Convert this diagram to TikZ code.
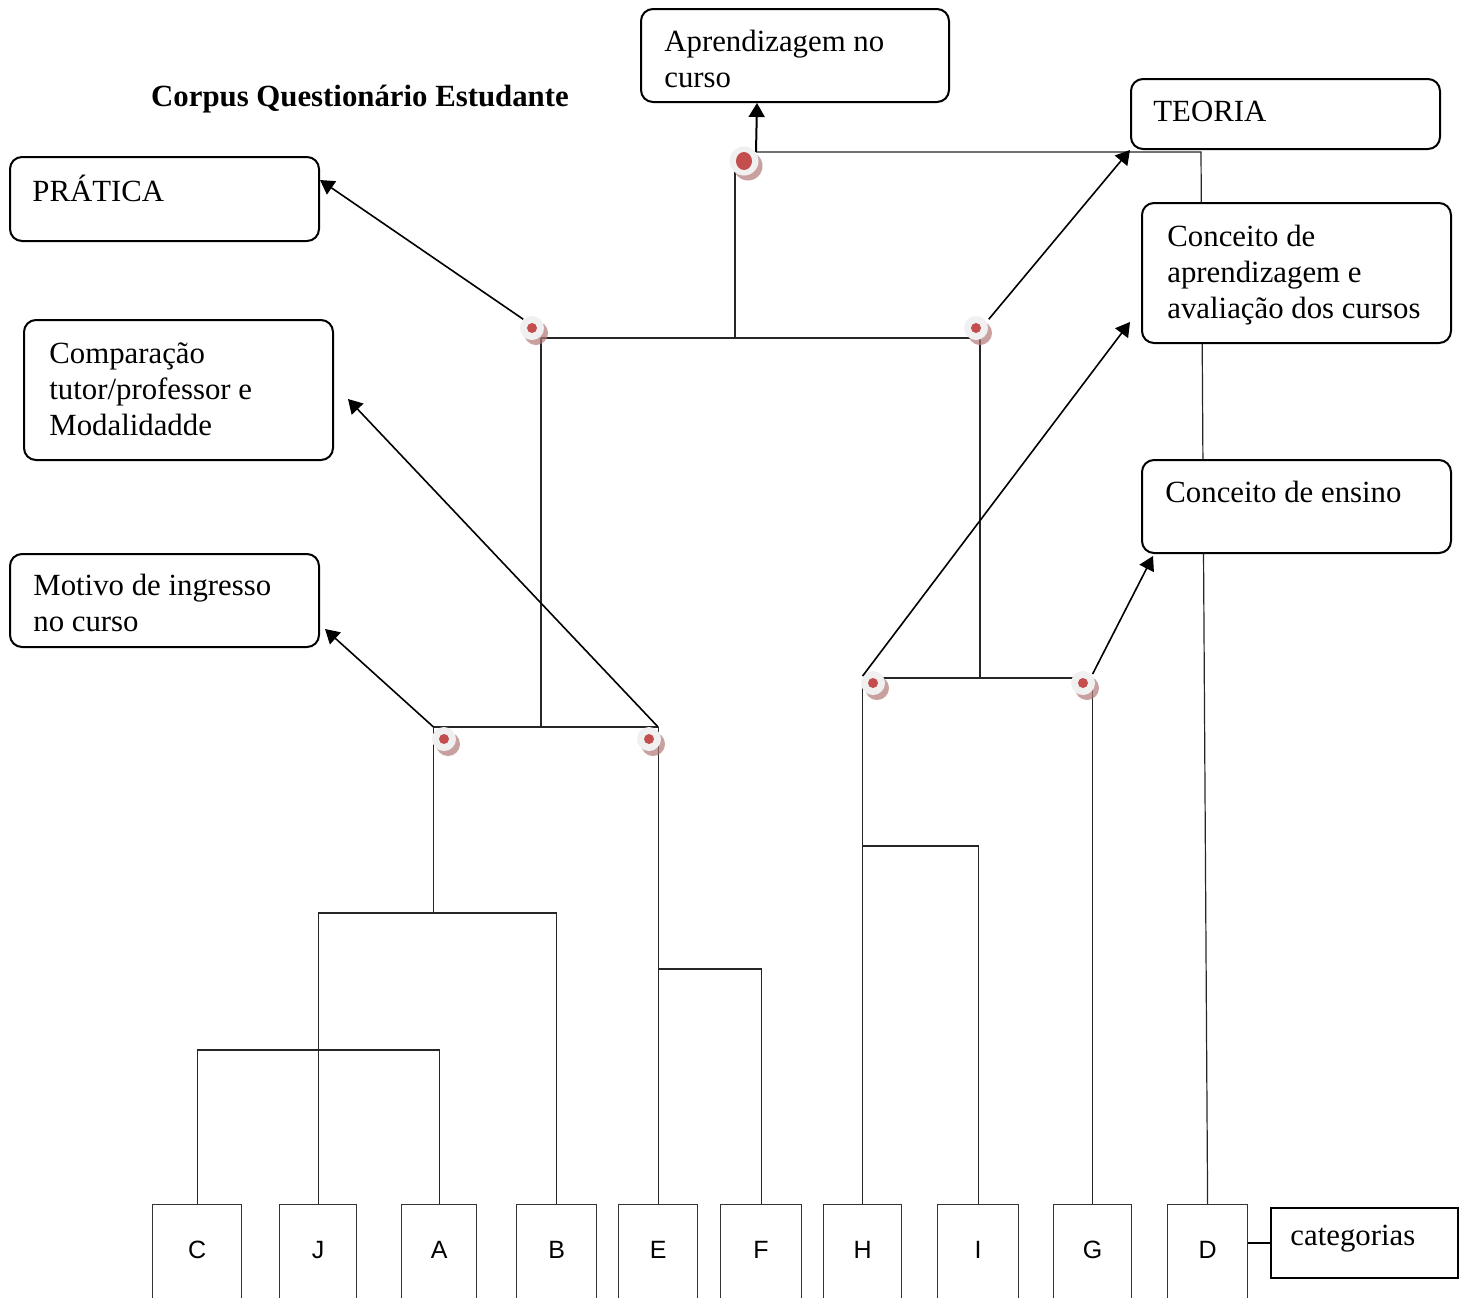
\documentclass[tikz,border=0pt]{standalone}
\usepackage{fontspec}
\setmainfont{Liberation Serif}
\newfontfamily\lettfont{Liberation Sans}
\usetikzlibrary{arrows.meta,shadows}
\definecolor{dotred}{RGB}{196,77,77}
\definecolor{dotwhite}{RGB}{240,240,240}
\definecolor{shadowc}{RGB}{176,120,120}
\begin{document}
\begin{tikzpicture}[x=0.5pt,y=-0.5pt,
  dendro/.style={line width=0.6pt, draw=black!85},
  lbox/.style={draw=black!80, line width=0.6pt, anchor=north west, inner sep=0, minimum height=50pt, text height=9.5pt, text depth=6pt, fill=white, font=\lettfont\fontsize{12.5}{14}\selectfont},
  rbox/.style={draw, line width=1pt, rounded corners=6pt, fill=white, anchor=north west, inner sep=0},
  txt/.style={anchor=north west, inner sep=0, align=left, font=\fontsize{15.4}{18}\selectfont},
  dotnode/.style={circle, inner sep=0, minimum size=12pt, fill=dotwhite,
    drop shadow={shadow xshift=2pt, shadow yshift=-2.5pt, shadow scale=1, fill=shadowc, opacity=0.7},
    path picture={\fill[dotred] (path picture bounding box.center) circle (2.5pt);}},
  bigdot/.style={circle, inner sep=0, minimum size=14.5pt, fill=dotwhite,
    drop shadow={shadow xshift=2pt, shadow yshift=-2.5pt, shadow scale=1, fill=shadowc, opacity=0.7},
    path picture={\fill[dotred] (path picture bounding box.center) ellipse (4pt and 4.5pt);}},
  arr/.style={-{Triangle[length=7pt,width=8pt]}, line width=0.8pt}
]
\useasboundingbox (0,0) rectangle (1468,1297);

% leaf boxes
\node[lbox, minimum width=44.5pt] (C) at (152,1204) {C};
\node[lbox, minimum width=38.5pt] (J) at (279,1204) {J};
\node[lbox, minimum width=37.5pt] (A) at (401,1204) {A};
\node[lbox, minimum width=40pt] (B) at (516,1204) {B};
\node[lbox, minimum width=39.5pt] (E) at (618,1204) {E};
\node[lbox, minimum width=40.5pt] (F) at (720,1204) {F};
\node[lbox, minimum width=39pt] (H) at (823,1204) {H};
\node[lbox, minimum width=40.5pt] (I) at (937,1204) {I};
\node[lbox, minimum width=39pt] (G) at (1053,1204) {G};
\node[lbox, minimum width=40pt] (D) at (1167,1204) {D};

% categorias
\node[draw, line width=1pt, anchor=north west, inner sep=0, minimum width=93.5pt, minimum height=35pt] (catbox) at (1270,1207) {};
\node[txt] (cattxt) at (1290,1220) {\strut categorias};
\draw[line width=0.8pt] (D.east |- catbox.west) -- (catbox.west);

% levels
\coordinate (h1) at (0,1050);
\coordinate (h2) at (0,913);
\coordinate (h3) at (0,969);
\coordinate (h4) at (0,727);
\coordinate (h5) at (0,678);
\coordinate (h6) at (0,846);
\coordinate (jM) at (433.5,727);
\coordinate (jE) at (E.north |- h4);
\coordinate (jL) at (541,338);
\coordinate (jR) at (980,338);
\coordinate (jH) at (H.north |- h5);
\coordinate (jG) at (G.north |- h5);
\coordinate (jTop) at (735,165);
\coordinate (j0) at (756,152);
\coordinate (jD) at (1201,152);

% dendrogram
\draw[dendro] (C.north) -- (C.north |- h1) -| (A.north);
\draw[dendro] (J.north) -- (J.north |- h2) -| (B.north);
\draw[dendro] (jM |- h2) -- (jM);
\draw[dendro] (E.north) -- (jE);
\draw[dendro] (F.north) |- (E.north |- h3);
\draw[dendro] (jM) -- (jE);
\draw[dendro] (jL |- h4) -- (jL);
\draw[dendro] (H.north) -- (jH);
\draw[dendro] (I.north) |- (H.north |- h6);
\draw[dendro] (G.north) -- (jG);
\draw[dendro] (jH) -- (jG);
\draw[dendro] (jR |- h5) -- (jR);
\draw[dendro] (jL) -- (jR);
\draw[dendro] (jTop |- jL) -- (jTop);
\draw[dendro] (j0) -- (jD) -- (D.north);

% title
\node[anchor=base, inner sep=0, font=\bfseries\fontsize{15.4}{18}\selectfont] (title) at (360,106) {Corpus Questionário Estudante};

% boxes
\node[rbox, minimum width=154pt, minimum height=46.5pt] (apr) at (640,8) {};
\node[txt] (aprt) at (664,25.8) {\strut Aprendizagem no\\curso};
\node[rbox, minimum width=154.5pt, minimum height=35pt] (teo) at (1130,78) {};
\node[txt] (teot) at (1153,95.8) {\strut TEORIA};
\node[rbox, minimum width=154.5pt, minimum height=42pt] (pra) at (9,156) {};
\node[txt] (prat) at (32,174.8) {\strut PRÁTICA};
\node[rbox, minimum width=154.5pt, minimum height=70pt] (ca) at (1141,202) {};
\node[txt] (cat) at (1167,220.8) {\strut Conceito de\\aprendizagem e\\avaliação dos cursos};
\node[rbox, minimum width=154.5pt, minimum height=70pt] (cmp) at (23,319) {};
\node[txt] (cmpt) at (49,337.8) {\strut Comparação\\tutor/professor e\\Modalidadde};
\node[rbox, minimum width=154.5pt, minimum height=46.5pt] (ce) at (1141,459) {};
\node[txt] (cet) at (1165,476.8) {\strut Conceito de ensino};
\node[rbox, minimum width=154.5pt, minimum height=46.5pt] (mot) at (9,553) {};
\node[txt] (mott) at (33,569.8) {\strut Motivo de ingresso\\no curso};

% dots
\node[bigdot] (d1) at (744,161) {};
\node[dotnode] (d2) at (532,328) {};
\node[dotnode] (d3) at (976,328) {};
\node[dotnode] (d4) at (444,739) {};
\node[dotnode] (d5) at (649,739) {};
\node[dotnode] (d6) at (873,683) {};
\node[dotnode] (d7) at (1083,683) {};

% arrows
\draw[arr, line width=1pt] (j0) -- ([xshift=-19pt]apr.south);
\draw[arr] (d2.north west) -- ([yshift=-12pt]pra.north east);
\draw[arr] ([xshift=2pt]d3.north east) -- (teo.south west);
\draw[arr] (jE) -- ([xshift=7pt,yshift=-4.5pt]cmp.east);
\draw[arr] (jM) -- ([xshift=2.5pt,yshift=-14.25pt]mot.east);
\draw[arr] ([yshift=1pt]jH) -- ([xshift=-5.5pt,yshift=11pt]ca.south west);
\draw[arr] ([yshift=2pt]jG) -- ([xshift=6pt,yshift=-1pt]ce.south west);
\end{tikzpicture}
\end{document}
